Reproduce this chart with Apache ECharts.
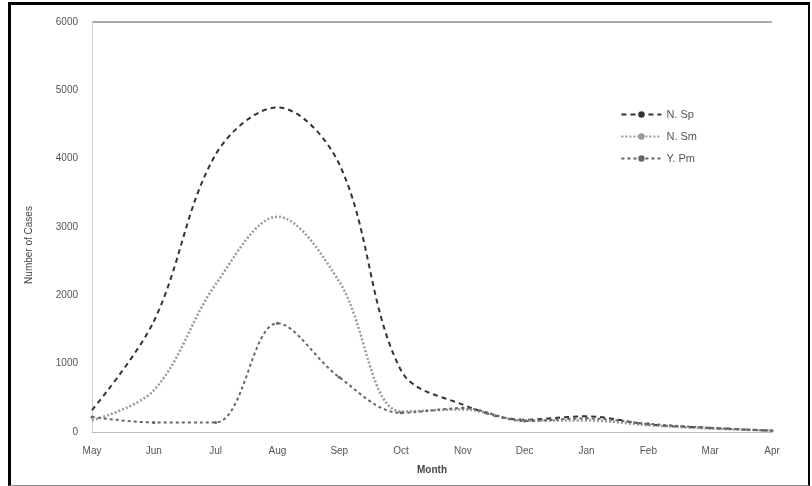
<!DOCTYPE html>
<html>
<head>
<meta charset="utf-8">
<script src="https://cdn.jsdelivr.net/npm/echarts@6/dist/echarts.min.js"></script>
<style>
html,body{margin:0;padding:0;background:#fff;}
#chart{position:absolute;left:0;top:0;width:812px;height:486px;}
#frame{position:absolute;left:8px;top:2px;width:802px;height:484px;box-sizing:border-box;border-left:3px solid #000;border-top:3px solid #000;border-right:2px solid #000;border-bottom:1px solid #888;pointer-events:none;}
</style>
</head>
<body>
<div id="chart"></div>
<div id="frame"></div>
<script>
const months = ['May','Jun','Jul','Aug','Sep','Oct','Nov','Dec','Jan','Feb','Mar','Apr'];
const yTicks = [0, 1000, 2000, 3000, 4000, 5000, 6000];
const seriesNames = ['N. Sp', 'N. Sm', 'Y. Pm'];
const seriesA = [320, 1620, 4060, 4750, 3920, 900, 400, 180, 230, 110, 60, 20];
const seriesB = [170, 610, 2160, 3150, 2200, 300, 330, 170, 170, 100, 50, 20];
const seriesC = [220, 140, 140, 1590, 800, 280, 350, 160, 200, 120, 60, 20];

const chart = echarts.init(document.getElementById('chart'));
const font = 'Liberation Sans';
chart.setOption({
  animation: false,
  backgroundColor: '#fff',
  grid: {left: 92, right: 40, top: 22, bottom: 54},
  legend: {
    right: 110, top: 104, orient: 'vertical', itemGap: 11,
    itemWidth: 40, itemHeight: 8,
    textStyle: {fontFamily: font, fontSize: 11, color: '#555'},
    data: seriesNames
  },
  xAxis: {
    type: 'category', data: months, boundaryGap: false,
    name: 'Month', nameLocation: 'middle', nameGap: 33,
    nameTextStyle: {fontFamily: font, fontSize: 10, color: '#444', fontWeight: 'bold'},
    axisLine: {lineStyle: {color: '#bbb'}},
    axisTick: {show: false},
    axisLabel: {fontFamily: font, fontSize: 10, color: '#555', margin: 14},
    splitLine: {show: false}
  },
  yAxis: {
    type: 'value', min: yTicks[0], max: yTicks[yTicks.length - 1], interval: 1000,
    name: 'Number of Cases', nameLocation: 'middle', nameGap: 58,
    nameTextStyle: {fontFamily: font, fontSize: 10, color: '#444', padding: [0, 0, 0, -36]},
    axisLine: {show: true, lineStyle: {color: '#ccc'}},
    axisTick: {show: false},
    axisLabel: {fontFamily: font, fontSize: 10, color: '#555', margin: 14, formatter: v => String(v)},
    splitLine: {show: true, lineStyle: {color: ['transparent','transparent','transparent','transparent','transparent','transparent','#aaa'], width: 2}}
  },
  series: [
    {name: seriesNames[0], type: 'line', data: seriesA, smooth: 0.35,
     symbol: 'none', lineStyle: {color: '#333', width: 2, type: [5, 4]}, itemStyle: {color: '#333'}},
    {name: seriesNames[1], type: 'line', data: seriesB, smooth: 0.35,
     symbol: 'none', lineStyle: {color: '#999', width: 2.5, type: [2, 2]}, itemStyle: {color: '#999'}},
    {name: seriesNames[2], type: 'line', data: seriesC, smooth: 0.35,
     symbol: 'circle', symbolSize: 3, lineStyle: {color: '#666', width: 2, type: [3, 3]}, itemStyle: {color: '#666'}}
  ]
});
</script>
</body>
</html>
